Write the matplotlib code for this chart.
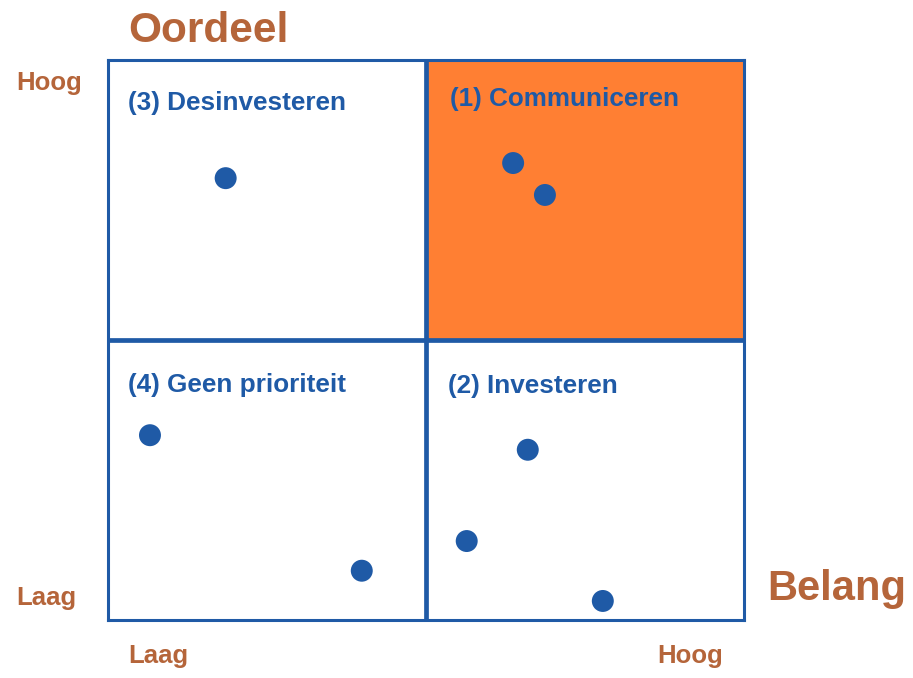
"""Belang / Oordeel quadrant matrix."""

import matplotlib

matplotlib.use("Agg")
import matplotlib.pyplot as plt  # noqa: E402
from matplotlib.patches import Rectangle  # noqa: E402

BLUE = "#1F5AA6"
ORANGE = "#FF7F33"
BROWN = "#B5653A"

# items: belang (x, 0-10) and oordeel (y, 0-10)
belang = [1.85, 6.37, 6.87, 0.66, 3.99, 6.60, 5.64, 7.78]
oordeel = [7.89, 8.16, 7.59, 3.30, 0.88, 3.04, 1.41, 0.34]

quadrant_labels = ["(3) Desinvesteren", "(1) Communiceren", "(4) Geen prioriteit", "(2) Investeren"]
quadrant_pos = [(0.31, 9.11), (5.38, 9.18), (0.31, 4.07), (5.35, 4.05)]

W, H = 913, 678
plt.rcParams["font.family"] = ["Liberation Sans", "DejaVu Sans"]

fig = plt.figure(figsize=(W / 100, H / 100), dpi=100)
ax = fig.add_axes([108 / W, (H - 620) / H, 636 / W, 560 / H])
ax.set_xlim(0, 10)
ax.set_ylim(0, 10)
ax.set_xticks([])
ax.set_yticks([])
for s in ax.spines.values():
    s.set_color(BLUE)
    s.set_linewidth(2.2)

ax.add_patch(Rectangle((5, 5), 5, 5, facecolor=ORANGE, edgecolor="none", zorder=0))
ax.axvline(5, color=BLUE, lw=3.4, zorder=1)
ax.axhline(5, color=BLUE, lw=3.4, zorder=1)

for lab, (x, y) in zip(quadrant_labels, quadrant_pos):
    ax.text(x, y, lab, ha="left", va="baseline", fontsize=18.8,
            fontweight="bold", color=BLUE)

ax.scatter(belang, oordeel, s=250, color=BLUE, edgecolors="none", zorder=3, clip_on=False)


def ftext(px, py, s, size):
    fig.text(px / W, 1 - py / H, s, ha="left", va="baseline", fontsize=size,
             fontweight="bold", color=BROWN)


ftext(128, 42, "Oordeel", 30.5)
ftext(767, 600, "Belang", 30)
ftext(16, 90, "Hoog", 18.5)
ftext(16, 605, "Laag", 18.5)
ftext(128, 663, "Laag", 18.5)
ftext(657, 663, "Hoog", 18.5)

fig.savefig("out.png", dpi=100, facecolor="white")
